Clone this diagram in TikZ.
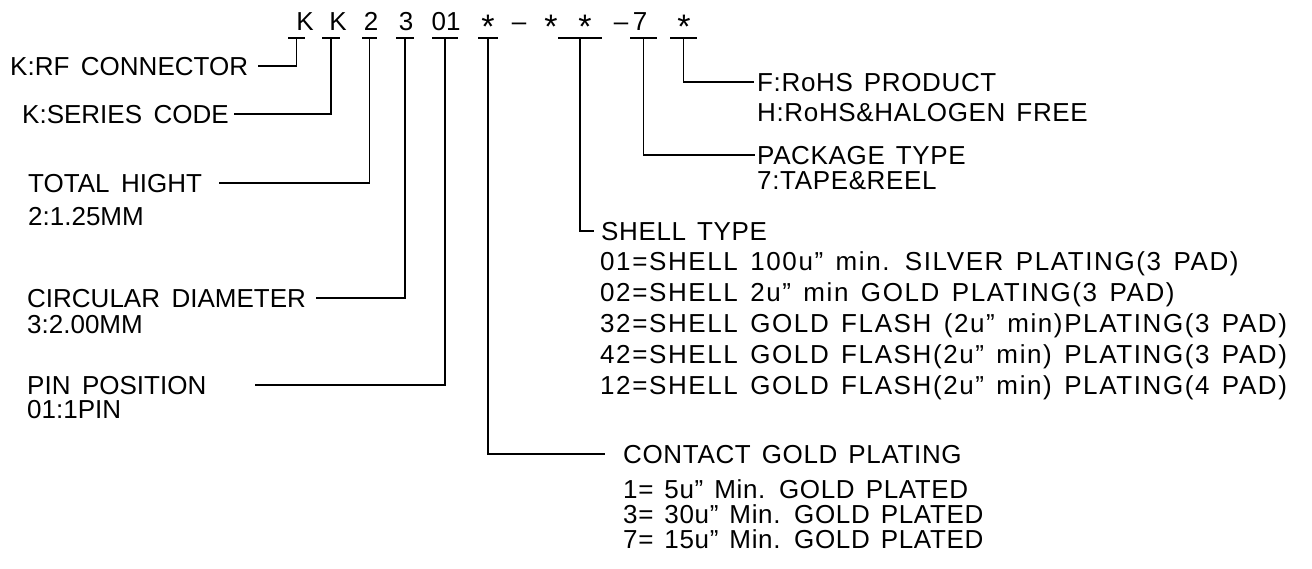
\documentclass[tikz,border=0pt]{standalone}
\usepackage{fontspec}
\setmainfont{Liberation Sans}[WordSpace=1.6]
\newfontfamily\tagfont{Liberation Sans}[WordSpace=1.4,LetterSpace=2.5]
\newfontfamily\listfont{Liberation Sans}[WordSpace=1.4,LetterSpace=6.2]
\tikzset{
  lbl/.style={anchor=west,inner sep=0pt,text height=18pt,text depth=0pt,font=\fontsize{26}{30}\selectfont},
  tag/.style={lbl,font=\fontsize{26}{30}\tagfont},
  item/.style={lbl,font=\fontsize{26}{30}\listfont},
  code/.style={inner sep=0pt,text height=18pt,text depth=0pt,font=\fontsize{26}{30}\selectfont},
  star/.style={code,font=\fontsize{34}{38}\selectfont},
  lead/.style={line width=1.6pt,line join=miter},
}
\begin{document}
\begin{tikzpicture}[x=1pt,y=-1pt]
  \useasboundingbox (0,0) rectangle (1312,568);
  % part number, one node per field
  \node[code] (kA) at (305,21) {K};
  \node[code] (kB) at (338,21) {K};
  \node[code] (h2) at (371,21) {2};
  \node[code] (d3) at (406,21) {3};
  \node[code] (p01) at (446,21) {01};
  \node[star] (ca) at (488,29.5) {*};
  \node[code] (s1) at (519,21) {–};
  \node[star] (sa) at (551,29.5) {*};
  \node[star] (sb) at (585,29.5) {*};
  \node[code] (s2) at (621,21) {–};
  \node[code] (pk) at (640,21) {7};
  \node[star] (rh) at (684,29.5) {*};
  % bars under the fields
  \foreach \a/\b/\n in {288/305/tA,322/340/tB,362/377/t2,396/414/t3,432/458/t01,478/498/tC,558/602/tS,630/657/t7,670/697/tR}
  {
    \draw[lead] (\a,38) -- (\b,38);
    \coordinate (\n) at ({(\a+\b)/2},38);
  }
  % left side
  \node[lbl] (rf) at (10,66) {K:RF CONNECTOR};
  \node[lbl] (ser) at (22,114) {K:SERIES CODE};
  \node[lbl] (hgt) at (28,183) {TOTAL HIGHT};
  \node[lbl] (hgtv) at (28,216) {2:1.25MM};
  \node[lbl] (dia) at (27,298) {CIRCULAR DIAMETER};
  \node[lbl] (diav) at (27,324) {3:2.00MM};
  \node[lbl] (pin) at (27,385) {PIN POSITION};
  \node[lbl] (pinv) at (27,409) {01:1PIN};
  \draw[lead,shorten >=10pt] (tA) |- (rf.east);
  \draw[lead,shorten >=5pt] (tB) |- (ser.east);
  \draw[lead,shorten >=17pt] (t2) |- (hgt.east);
  \draw[lead,shorten >=10pt] (t3) |- (dia.east);
  \draw[lead,shorten >=48pt] (t01) |- (pin.east);
  % right side
  \node[tag] (rohs) at (757,82) {F:RoHS PRODUCT};
  \node[tag] (rohsv) at (757,112) {H:RoHS\&HALOGEN FREE};
  \node[tag] (pkg) at (757,155) {PACKAGE TYPE};
  \node[tag] (pkgv) at (757,180) {7:TAPE\&REEL};
  \node[tag] (shl) at (601,231) {SHELL TYPE};
  \foreach \y/\t in {261/{01=SHELL 100u” min. SILVER PLATING(3 PAD)},
                     292/{02=SHELL 2u” min GOLD PLATING(3 PAD)},
                     323/{32=SHELL GOLD FLASH (2u” min)PLATING(3 PAD)},
                     354/{42=SHELL GOLD FLASH(2u” min) PLATING(3 PAD)},
                     385/{12=SHELL GOLD FLASH(2u” min) PLATING(4 PAD)}}
    \node[item] at (600,\y) {\t};
  \node[tag] (cgp) at (623,454) {CONTACT GOLD PLATING};
  \foreach \y/\t in {489/{1= 5u” Min. GOLD PLATED},
                     514/{3= 30u” Min. GOLD PLATED},
                     539/{7= 15u” Min. GOLD PLATED}}
    \node[tag] at (623,\y) {\t};
  \draw[lead,shorten >=3pt] (tR) |- (rohs.west);
  \draw[lead,shorten >=2pt] (t7) |- (pkg.west);
  \draw[lead,shorten >=7pt] (tS) |- (shl.west);
  \draw[lead,shorten >=18pt] (tC) |- (cgp.west);
\end{tikzpicture}
\end{document}
